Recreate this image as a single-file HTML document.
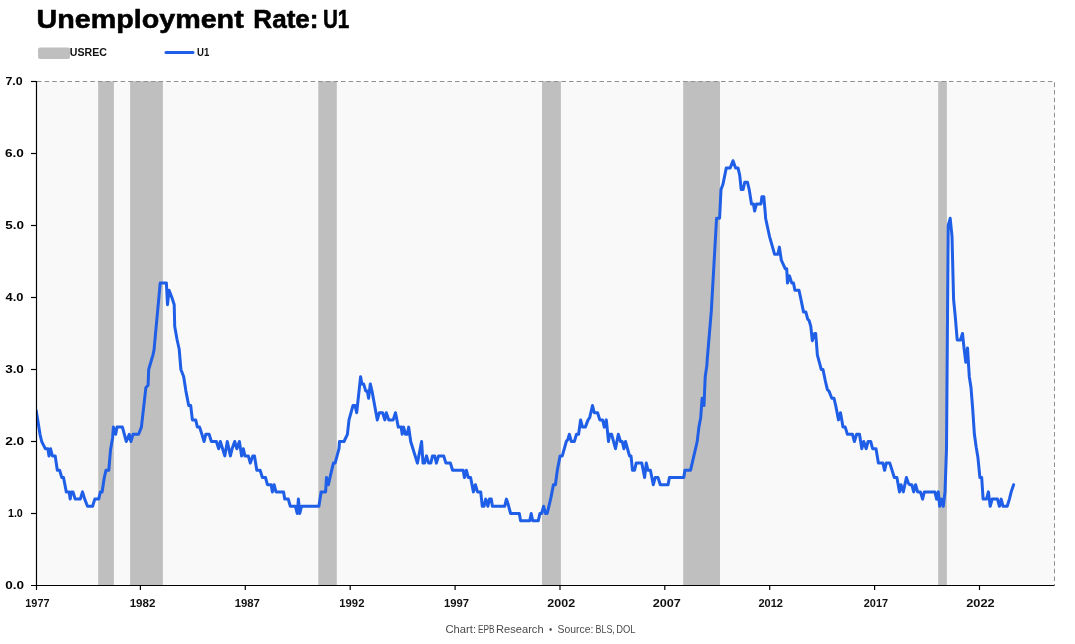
<!DOCTYPE html>
<html><head><meta charset="utf-8"><title>Unemployment Rate: U1</title>
<style>
html,body{margin:0;padding:0;background:#fff;}
svg{display:block}
text{font-family:"Liberation Sans",sans-serif;}
.title{font-size:25.3px;font-weight:700;fill:#000;stroke:#000;stroke-width:0.55px;}
.yl{font-size:10.6px;font-weight:700;fill:#000;}
.xl{font-size:10.8px;font-weight:700;fill:#111;}
.lg{font-size:10.4px;font-weight:700;fill:#111;}
.ft{font-size:10.1px;font-weight:400;fill:#4a4a4a;}
</style></head><body>
<svg width="1075" height="644" viewBox="0 0 1075 644">
<rect x="38.3" y="82.2" width="1016.2" height="502.8" fill="#f9f9f9"/>
<rect x="98.2" y="81.2" width="15.7" height="503.8" fill="#bfbfbf"/>
<rect x="130.1" y="81.2" width="32.8" height="503.8" fill="#bfbfbf"/>
<rect x="318.3" y="81.2" width="18.5" height="503.8" fill="#bfbfbf"/>
<rect x="542.0" y="81.2" width="18.9" height="503.8" fill="#bfbfbf"/>
<rect x="683.2" y="81.2" width="36.8" height="503.8" fill="#bfbfbf"/>
<rect x="938.2" y="81.2" width="8.7" height="503.8" fill="#bfbfbf"/>
<path d="M37,81.5 H1054.5 V585" fill="none" stroke="#909090" stroke-width="1" stroke-dasharray="4.6 3"/>
<clipPath id="pc"><rect x="36.5" y="81" width="1018.5" height="505"/></clipPath>
<path d="M36.2,410.5 L38.3,423.5 L40.0,434.3 L41.7,441.5 L43.5,445.1 L45.4,448.7 L47.9,448.7 L49.0,455.9 L50.5,448.7 L52.4,455.9 L55.2,455.9 L55.2,455.9 L57.3,470.3 L59.6,470.3 L61.8,477.5 L63.5,477.5 L66.3,491.9 L69.1,491.9 L70.2,499.1 L71.3,491.9 L73.0,491.9 L75.2,499.1 L80.3,499.1 L82.5,491.9 L84.7,499.1 L87.5,506.3 L92.6,506.3 L94.8,499.1 L98.7,499.1 L100.4,491.9 L102.1,491.9 L104.3,477.5 L106.0,470.3 L108.8,470.3 L110.5,450.1 L112.6,437.9 L113.4,427.1 L115.7,434.3 L117.0,427.1 L122.4,427.1 L126.3,441.5 L129.3,434.3 L130.9,441.5 L133.0,434.3 L138.6,434.3 L141.4,427.1 L145.9,387.5 L148.1,385.3 L148.7,369.5 L152.9,355.1 L154.0,350.1 L160.2,283.1 L166.4,283.1 L167.5,304.7 L169.1,290.3 L171.9,297.5 L174.2,304.7 L174.7,326.3 L177.0,339.3 L179.2,349.3 L180.9,369.5 L183.7,376.7 L185.9,391.1 L188.7,405.5 L188.7,405.5 L190.7,405.5 L192.4,419.9 L195.7,419.9 L197.4,427.1 L199.6,427.1 L201.9,434.3 L204.1,441.5 L205.8,434.3 L209.1,434.3 L211.4,441.5 L216.4,441.5 L218.7,448.7 L220.3,441.5 L222.6,448.7 L224.8,455.9 L227.3,441.5 L230.4,455.9 L232.1,448.7 L234.7,441.5 L236.9,448.7 L239.4,441.5 L241.6,455.9 L243.3,448.7 L244.9,455.9 L248.3,455.9 L250.3,463.1 L252.8,455.9 L254.5,455.9 L256.8,470.3 L260.1,470.3 L262.4,477.5 L265.5,477.5 L267.4,484.7 L271.1,484.7 L272.4,491.9 L274.1,484.7 L276.0,491.9 L283.6,491.9 L284.7,499.1 L288.3,499.1 L290.3,506.3 L295.4,506.3 L297.3,513.5 L298.4,499.1 L299.8,513.5 L301.5,506.3 L318.9,506.3 L321.1,491.9 L325.6,491.9 L326.5,477.5 L328.4,484.7 L330.0,477.5 L333.4,463.1 L335.1,463.1 L339.0,448.7 L339.5,441.5 L344.0,441.5 L347.4,434.3 L349.0,419.9 L353.0,405.5 L355.0,405.5 L356.7,412.7 L360.6,376.7 L361.9,383.9 L363.6,383.9 L365.8,391.1 L367.3,391.1 L368.6,398.3 L370.3,383.9 L372.0,391.1 L377.3,419.9 L379.3,412.7 L382.6,412.7 L384.8,419.9 L386.3,412.7 L388.8,419.9 L393.2,419.9 L395.5,412.7 L398.3,427.1 L401.1,427.1 L402.2,434.3 L403.6,427.1 L405.5,434.3 L407.2,434.3 L408.7,427.1 L410.7,441.5 L417.4,463.1 L421.6,441.5 L423.0,463.1 L424.6,463.1 L426.5,455.9 L428.6,463.1 L430.8,463.1 L432.5,455.9 L434.7,455.9 L436.4,463.1 L438.6,455.9 L443.7,455.9 L445.9,463.1 L450.4,463.1 L452.6,470.3 L463.2,470.3 L464.4,477.5 L466.4,470.3 L468.3,477.5 L470.6,477.5 L473.4,491.9 L475.4,484.7 L477.5,491.9 L480.7,491.9 L482.3,506.3 L484.0,506.3 L485.7,499.1 L487.9,506.3 L489.4,499.1 L491.3,499.1 L492.4,506.3 L504.7,506.3 L506.4,499.1 L508.1,504.1 L510.6,513.5 L519.3,513.5 L520.6,520.7 L529.7,520.7 L531.2,513.5 L532.7,520.7 L538.3,520.7 L539.9,513.5 L541.6,513.5 L543.6,506.3 L545.5,513.5 L547.2,513.5 L551.1,496.9 L553.4,484.7 L555.4,484.7 L557.3,470.3 L560.1,455.9 L562.3,455.9 L566.3,441.5 L567.9,439.3 L569.4,434.3 L571.3,441.5 L574.3,441.5 L576.5,434.3 L578.6,434.3 L580.6,419.9 L582.5,427.1 L585.3,427.1 L588.1,419.9 L589.7,417.7 L592.5,405.5 L594.2,412.7 L597.6,412.7 L599.8,419.9 L602.6,419.9 L604.3,427.1 L606.3,419.9 L608.5,441.5 L609.7,434.3 L611.6,434.3 L615.5,448.7 L618.3,434.3 L620.5,441.5 L622.2,441.5 L623.9,448.7 L625.5,441.5 L629.5,455.9 L631.0,455.9 L632.5,470.3 L634.5,470.3 L636.2,463.1 L641.8,463.1 L644.6,477.5 L646.3,463.1 L648.0,470.3 L650.4,470.3 L653.3,484.7 L655.2,477.5 L658.0,477.5 L660.3,484.7 L668.1,484.7 L669.4,477.5 L683.8,477.5 L684.9,470.3 L690.5,470.3 L697.2,441.5 L698.9,427.1 L700.7,417.7 L702.1,398.3 L704.0,405.5 L705.2,376.7 L706.8,365.9 L707.3,358.7 L711.3,311.2 L716.5,219.7 L716.6,218.3 L719.6,218.3 L721.0,189.5 L722.9,184.5 L726.3,167.9 L730.2,167.9 L733.0,160.7 L735.6,167.9 L738.0,167.9 L739.7,175.1 L741.2,189.5 L743.1,189.5 L744.7,182.3 L747.5,182.3 L749.2,189.5 L751.5,203.9 L753.5,203.9 L754.6,211.1 L756.5,203.9 L761.0,203.9 L761.9,196.7 L763.8,196.7 L765.4,214.7 L765.6,218.3 L769.5,236.3 L774.6,254.3 L777.9,254.3 L779.4,247.1 L781.3,260.1 L785.2,268.7 L786.7,268.7 L787.5,283.1 L789.5,275.9 L791.8,283.1 L793.5,283.1 L794.9,290.3 L799.0,290.3 L801.3,301.1 L803.5,311.9 L805.8,311.9 L807.7,319.1 L809.1,320.5 L810.8,326.3 L812.3,340.7 L814.6,333.5 L815.7,333.5 L817.4,355.1 L821.3,369.5 L823.0,369.5 L825.2,380.3 L827.4,389.7 L829.0,391.1 L831.8,398.3 L834.0,398.3 L835.7,405.5 L838.5,419.9 L840.5,412.7 L843.0,427.1 L845.2,427.1 L847.4,434.3 L852.5,434.3 L854.4,441.5 L856.6,434.3 L859.5,434.3 L861.8,448.7 L863.7,441.5 L866.2,448.7 L868.1,441.5 L870.7,441.5 L872.6,448.7 L876.0,448.7 L878.4,463.1 L882.9,463.1 L884.6,470.3 L886.3,463.1 L889.8,463.1 L894.3,477.5 L896.9,477.5 L899.5,491.9 L901.0,484.7 L903.3,491.9 L906.4,477.5 L908.4,483.3 L909.7,484.7 L911.8,484.7 L913.7,491.9 L915.6,484.7 L917.6,491.9 L920.4,491.9 L922.6,499.1 L924.3,491.9 L934.9,491.9 L936.6,499.1 L938.3,491.9 L939.7,506.3 L941.6,499.1 L943.3,506.3 L945.0,491.9 L946.5,448.7 L948.2,225.5 L950.2,218.3 L952.0,236.3 L953.6,299.7 L955.3,316.9 L957.2,340.0 L960.5,340.0 L962.5,333.5 L964.0,347.9 L965.8,362.3 L967.5,347.9 L969.3,376.7 L971.0,387.5 L972.7,409.1 L974.4,434.3 L976.2,447.3 L977.9,457.3 L979.9,477.5 L981.7,477.5 L983.1,499.1 L986.5,499.1 L988.4,491.9 L990.2,506.3 L992.2,499.1 L997.5,499.1 L999.4,506.3 L1001.2,499.1 L1003.0,506.3 L1007.2,506.3 L1009.4,499.1 L1011.2,491.9 L1013.6,484.7" clip-path="url(#pc)" fill="none" stroke="#1f5ee6" stroke-width="3" stroke-linejoin="round" stroke-linecap="round"/>
<path d="M36.5,81.0 V590" stroke="#000" stroke-width="1.2" fill="none"/>
<path d="M31,585.5 H1054.5" stroke="#000" stroke-width="1.2" fill="none"/>
<path d="M31,513.5 H36.5" stroke="#000" stroke-width="1.2"/>
<path d="M31,441.5 H36.5" stroke="#000" stroke-width="1.2"/>
<path d="M31,369.5 H36.5" stroke="#000" stroke-width="1.2"/>
<path d="M31,297.5 H36.5" stroke="#000" stroke-width="1.2"/>
<path d="M31,225.5 H36.5" stroke="#000" stroke-width="1.2"/>
<path d="M31,153.5 H36.5" stroke="#000" stroke-width="1.2"/>
<path d="M31,81.5 H36.5" stroke="#000" stroke-width="1.2"/>
<path d="M140.4,585.5 V590" stroke="#000" stroke-width="1.2"/>
<path d="M245.3,585.5 V590" stroke="#000" stroke-width="1.2"/>
<path d="M350.2,585.5 V590" stroke="#000" stroke-width="1.2"/>
<path d="M455.1,585.5 V590" stroke="#000" stroke-width="1.2"/>
<path d="M560.0,585.5 V590" stroke="#000" stroke-width="1.2"/>
<path d="M664.8,585.5 V590" stroke="#000" stroke-width="1.2"/>
<path d="M769.7,585.5 V590" stroke="#000" stroke-width="1.2"/>
<path d="M874.6,585.5 V590" stroke="#000" stroke-width="1.2"/>
<path d="M979.5,585.5 V590" stroke="#000" stroke-width="1.2"/>
<text x="5.48" y="85.05" class="yl" textLength="17.22" lengthAdjust="spacingAndGlyphs">7.0</text>
<text x="4.90" y="157.05" class="yl" textLength="18.87" lengthAdjust="spacingAndGlyphs">6.0</text>
<text x="5.28" y="229.05" class="yl" textLength="18.71" lengthAdjust="spacingAndGlyphs">5.0</text>
<text x="5.48" y="301.05" class="yl" textLength="17.93" lengthAdjust="spacingAndGlyphs">4.0</text>
<text x="5.15" y="373.05" class="yl" textLength="18.74" lengthAdjust="spacingAndGlyphs">3.0</text>
<text x="5.16" y="445.05" class="yl" textLength="18.95" lengthAdjust="spacingAndGlyphs">2.0</text>
<text x="7.98" y="517.05" class="yl" textLength="14.84" lengthAdjust="spacingAndGlyphs">1.0</text>
<text x="5.28" y="589.05" class="yl" textLength="18.80" lengthAdjust="spacingAndGlyphs">0.0</text>
<text x="25.29" y="607.0" class="xl" textLength="24.25" lengthAdjust="spacingAndGlyphs">1977</text>
<text x="129.67" y="607.0" class="xl" textLength="25.79" lengthAdjust="spacingAndGlyphs">1982</text>
<text x="234.68" y="607.0" class="xl" textLength="25.25" lengthAdjust="spacingAndGlyphs">1987</text>
<text x="339.37" y="607.0" class="xl" textLength="25.04" lengthAdjust="spacingAndGlyphs">1992</text>
<text x="444.00" y="607.0" class="xl" textLength="24.97" lengthAdjust="spacingAndGlyphs">1997</text>
<text x="547.37" y="607.0" class="xl" textLength="27.79" lengthAdjust="spacingAndGlyphs">2002</text>
<text x="652.74" y="607.0" class="xl" textLength="28.19" lengthAdjust="spacingAndGlyphs">2007</text>
<text x="758.46" y="607.0" class="xl" textLength="24.51" lengthAdjust="spacingAndGlyphs">2012</text>
<text x="863.81" y="607.0" class="xl" textLength="24.26" lengthAdjust="spacingAndGlyphs">2017</text>
<text x="966.27" y="607.0" class="xl" textLength="28.45" lengthAdjust="spacingAndGlyphs">2022</text>
<text x="36.60" y="27.6" class="title" textLength="207.10" lengthAdjust="spacingAndGlyphs">Unemployment</text>
<text x="253.35" y="27.6" class="title" textLength="65.16" lengthAdjust="spacingAndGlyphs">Rate:</text>
<text x="322.90" y="27.6" class="title" textLength="26.33" lengthAdjust="spacingAndGlyphs">U1</text>
<text x="69.83" y="56.3" class="lg" textLength="37.11" lengthAdjust="spacingAndGlyphs">USREC</text>
<text x="196.99" y="56.3" class="lg" textLength="12.25" lengthAdjust="spacingAndGlyphs">U1</text>
<text x="445.55" y="632.9" class="ft" textLength="30.47" lengthAdjust="spacingAndGlyphs">Chart:</text>
<text x="478.06" y="632.9" class="ft" textLength="16.57" lengthAdjust="spacingAndGlyphs">EPB</text>
<text x="496.07" y="632.9" class="ft" textLength="47.55" lengthAdjust="spacingAndGlyphs">Research</text>
<text x="549.03" y="632.9" class="ft" textLength="3.20" lengthAdjust="spacingAndGlyphs">•</text>
<text x="557.64" y="632.9" class="ft" textLength="35.72" lengthAdjust="spacingAndGlyphs">Source:</text>
<text x="595.43" y="632.9" class="ft" textLength="19.45" lengthAdjust="spacingAndGlyphs">BLS,</text>
<text x="616.22" y="632.9" class="ft" textLength="19.27" lengthAdjust="spacingAndGlyphs">DOL</text>
<rect x="38" y="47.5" width="32" height="11.5" rx="2" fill="#bfbfbf"/>
<path d="M166,52.6 H193" stroke="#1f5ee6" stroke-width="3" stroke-linecap="round"/>
</svg>
</body></html>
